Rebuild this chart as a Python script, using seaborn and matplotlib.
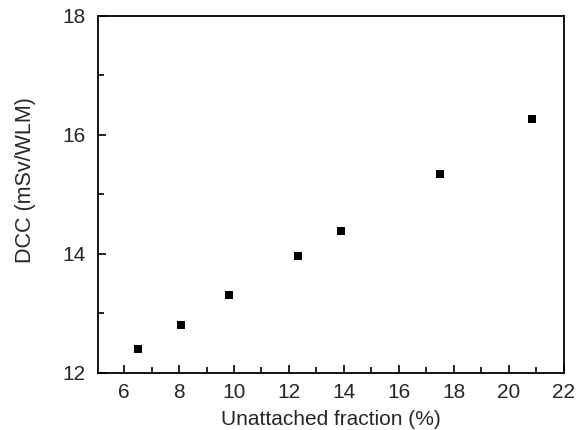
import matplotlib
matplotlib.use('Agg')
import matplotlib.pyplot as plt
import seaborn as sns
import pandas as pd
from matplotlib.ticker import MultipleLocator

# values
unattached = [6.5, 8.07, 9.81, 12.32, 13.88, 17.5, 20.85]
dcc = [12.40, 12.81, 13.30, 13.96, 14.39, 15.35, 16.26]

df = pd.DataFrame({'Unattached fraction (%)': unattached, 'DCC (mSv/WLM)': dcc})

sns.set_style('ticks')
plt.rcParams['font.family'] = ['Liberation Sans', 'DejaVu Sans']

fig = plt.figure(figsize=(5.76, 4.30), dpi=100)
ax = fig.add_axes([0.170, 0.133, 0.809, 0.830])

sns.scatterplot(data=df, x='Unattached fraction (%)', y='DCC (mSv/WLM)',
                marker='s', s=40, color='black', edgecolor='black', linewidth=0, ax=ax)

ax.set_xlim(5.05, 22)
ax.set_ylim(12, 18)
ax.xaxis.set_major_locator(MultipleLocator(2))
ax.xaxis.set_minor_locator(MultipleLocator(1))
ax.yaxis.set_major_locator(MultipleLocator(2))
ax.yaxis.set_minor_locator(MultipleLocator(1))
ax.tick_params(which='both', direction='in', labelsize=15, width=1.2, color='black')
ax.tick_params(which='major', length=6)
ax.tick_params(which='minor', length=4)
ax.tick_params(axis='y', pad=9)
ax.tick_params(axis='x', pad=7)
for side in ax.spines.values():
    side.set_linewidth(1.3)
    side.set_color('black')

ax.set_xlabel('Unattached fraction (%)', fontsize=15, labelpad=6)
ax.set_ylabel('DCC (mSv/WLM)', fontsize=15.5)
# label sits a bit above the middle in the original
ax.yaxis.set_label_coords(-0.132, 0.54)

fig.savefig('out.png', dpi=100)
